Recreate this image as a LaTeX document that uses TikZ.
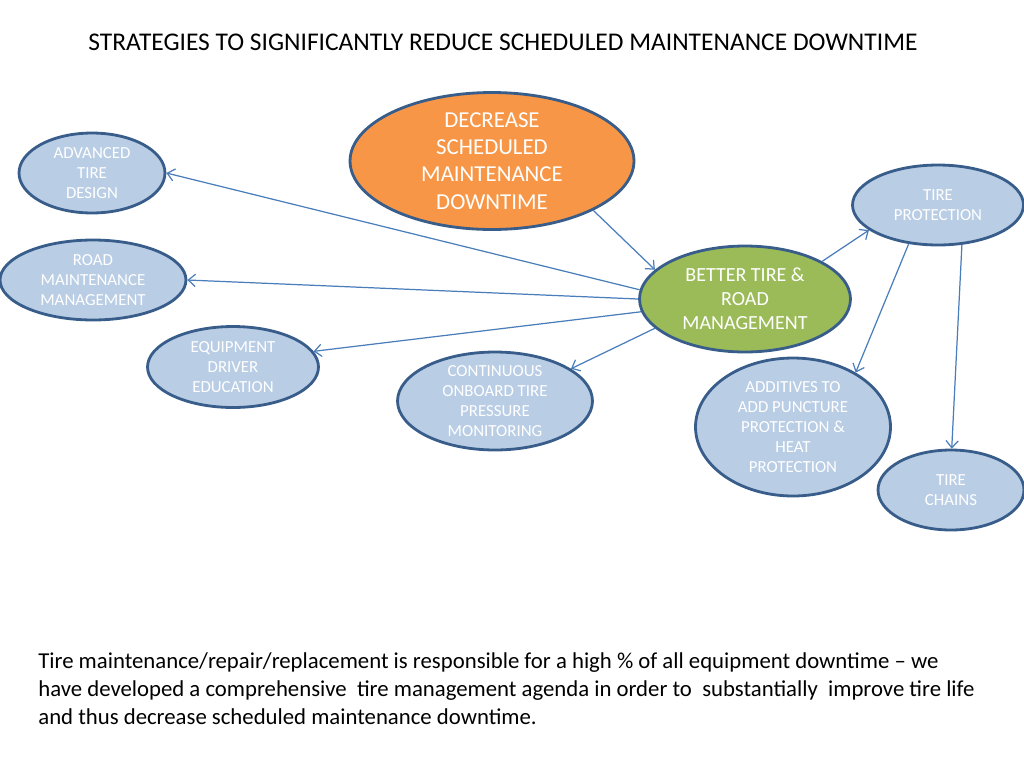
\documentclass[tikz,border=0pt]{standalone}
\usepackage{fontspec}
\setmainfont{Carlito}
\usepackage{xcolor}
\usetikzlibrary{arrows.meta}
\usetikzlibrary{shapes.geometric}
\definecolor{qfill}{RGB}{185,205,229}
\definecolor{qedge}{RGB}{56,93,138}
\definecolor{qline}{RGB}{74,126,187}
\definecolor{qorange}{RGB}{247,150,70}
\definecolor{qgreen}{RGB}{155,187,89}

\begin{document}
\begin{tikzpicture}[x=0.02cm, y=-0.02cm,
  blob/.style={ellipse, draw=qedge, line width=1.6pt, fill=qfill, text=white,
    align=center, inner sep=0pt, inner ysep=-5pt,
    font=\fontsize{9.6}{11.5}\selectfont},
  link/.style={-{Straight Barb[length=4pt,width=7pt]}, draw=qline, line width=0.7pt}]

\useasboundingbox (0,0) rectangle (1024,768);

\node[font=\fontsize{14.5}{17}\selectfont] (title) at (503,42)
  {STRATEGIES TO SIGNIFICANTLY REDUCE SCHEDULED MAINTENANCE DOWNTIME};

\node[blob, fill=qorange, minimum width=5.68cm, minimum height=2.74cm,
  font=\fontsize{13}{15.5}\selectfont] (dec) at (492,161)
  {DECREASE\\SCHEDULED\\MAINTENANCE\\DOWNTIME};
\node[blob, fill=qgreen, minimum width=4.22cm, minimum height=2.12cm,
  font=\fontsize{11.4}{13.6}\selectfont] (better) at (745,299)
  {BETTER TIRE \&\\ROAD\\MANAGEMENT};

\node[blob, minimum width=2.92cm, minimum height=1.6cm] (adv) at (92,173)
  {ADVANCED\\TIRE\\DESIGN};
\node[blob, minimum width=3.72cm, minimum height=1.6cm] (road) at (93,280)
  {ROAD\\MAINTENANCE\\MANAGEMENT};
\node[blob, minimum width=3.42cm, minimum height=1.62cm] (equip) at (233,367)
  {EQUIPMENT\\DRIVER\\EDUCATION};
\node[blob, minimum width=3.9cm, minimum height=1.96cm] (cont) at (495,401)
  {CONTINUOUS\\ONBOARD TIRE\\PRESSURE\\MONITORING};
\node[blob, minimum width=3.42cm, minimum height=1.6cm] (prot) at (938,205)
  {TIRE\\PROTECTION};
\node[blob, minimum width=3.9cm, minimum height=2.76cm] (add) at (793,427)
  {ADDITIVES TO\\ADD PUNCTURE\\PROTECTION \&\\HEAT\\PROTECTION};
\node[blob, minimum width=2.92cm, minimum height=1.6cm] (chains) at (951,490)
  {TIRE\\CHAINS};

\draw[link] (dec.334) -- (better.162);
\draw[link] (better.175) -- (adv.east);
\draw[link] (better.180) -- (road.east);
\draw[link] (better.187) -- (equip.11);
\draw[link] (better.198) -- (cont.23);
\draw[link] (better.26) -- (prot.200);
\draw[link] (prot.233) -- (add.41);
\draw[link] (prot.301) -- (chains.89);

\node[anchor=west, align=left, inner sep=0pt, font=\fontsize{12.95}{15.9}\selectfont] (note) at (38,689)
  {Tire maintenance/repair/replacement is responsible for a high \% of all equipment downtime -- we\\
   have developed a comprehensive\ \ tire management agenda in order to\ \ substantially\ \ improve tire life\\
   and thus decrease scheduled maintenance downtime.};
\end{tikzpicture}
\end{document}
